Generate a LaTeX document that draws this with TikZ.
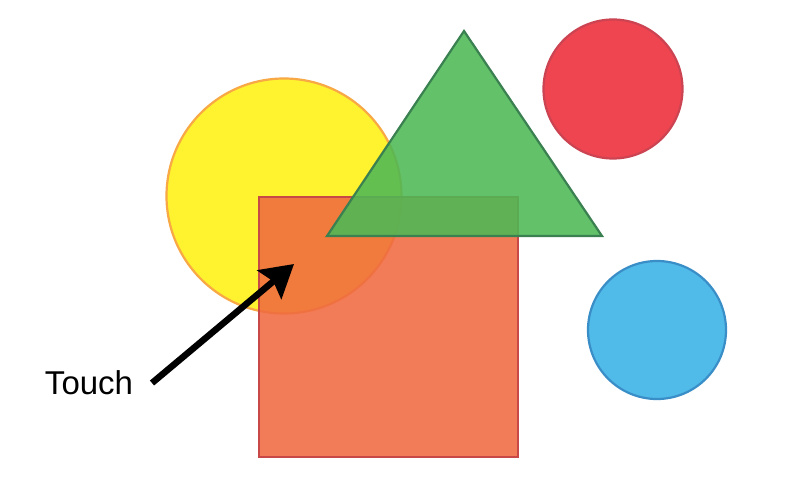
\documentclass[tikz,border=0pt]{standalone}
\usepackage{fontspec}
\setmainfont{Liberation Sans}
\usetikzlibrary{arrows.meta}
\definecolor{yelfill}{HTML}{FFF22E}
\definecolor{yeldraw}{HTML}{F8A844}
\definecolor{sqfill}{HTML}{F06A40}
\definecolor{sqdraw}{HTML}{C84848}
\definecolor{trfill}{HTML}{4DB955}
\definecolor{trdraw}{HTML}{3A8050}
\definecolor{redfill}{HTML}{EF4550}
\definecolor{reddraw}{HTML}{CC4452}
\definecolor{bluefill}{HTML}{50BAE8}
\definecolor{bluedraw}{HTML}{3A8EC8}
\tikzset{
  shapeline/.style={line width=2.2pt},
  touchlabel/.style={font=\fontsize{33}{38}\selectfont, anchor=center, inner sep=0pt},
  pointer/.style={line width=6.5pt, -{Stealth[length=32pt,width=37pt,inset=5pt]}}
}
\begin{document}
\begin{tikzpicture}[x=1pt,y=-1pt]
\useasboundingbox (0,0) rectangle (791,486);
\fill[white] (0,0) rectangle (791,486);
% yellow circle
\draw[shapeline, draw=yeldraw, fill=yelfill] (284,196) circle (117.5);
% square
\draw[shapeline, draw=sqdraw, fill=sqfill, fill opacity=0.88] (259,197) rectangle (518,457);
% triangle
\draw[shapeline, draw=trdraw, fill=trfill, fill opacity=0.88, line join=miter] (464,31) -- (602,236) -- (327,236) -- cycle;
% red circle
\draw[shapeline, draw=reddraw, fill=redfill] (613,89) circle (69.5);
% blue circle
\draw[shapeline, draw=bluedraw, fill=bluefill] (657,330) circle (69);
% label and arrow
\node[touchlabel] (touch) at (89,383) {Touch};
\coordinate (tail) at (152,383);
\coordinate (tip) at (294,264);
\draw[pointer] (tail) -- (tip);
\end{tikzpicture}
\end{document}
